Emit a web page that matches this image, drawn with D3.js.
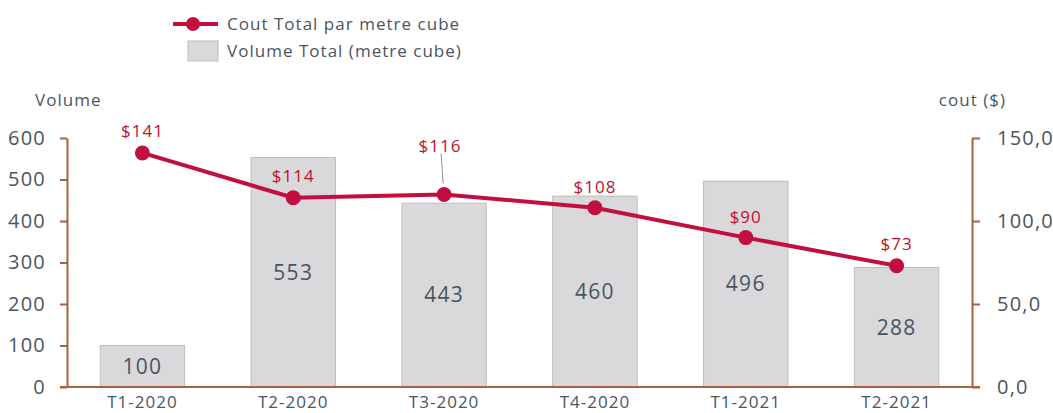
<!DOCTYPE html>
<html><head><meta charset="utf-8">
<script src="https://cdn.jsdelivr.net/npm/d3@7"></script>
<style>
html,body{margin:0;padding:0;background:#fff;}
svg{display:block;font-family:"Open Sans",sans-serif;}
svg text{letter-spacing:0.06em;}
</style></head>
<body>
<svg id="chart" width="1053" height="413"></svg>
<script>
const categories = ["T1-2020","T2-2020","T3-2020","T4-2020","T1-2021","T2-2021"];
const volumes = [100,553,443,460,496,288];
const costs = [141,114,116,108,90,73];
const leftTicks = [0,100,200,300,400,500,600];
const rightTicks = [0,50,100,150];
const labelOffsets = [22,22,48,21,21,22];

const svg = d3.select("#chart");
const textColor = "#4A5560";
const axisColor = "#A9613F";
const lineColor = "#C20F40";
const labelRed = "#C0102A";

const x0 = 67, x1 = 972, yTop = 138, yBot = 387;
const x = d3.scaleBand().domain(categories).range([x0, x1]).paddingInner(0.44).paddingOuter(0.22);
const yL = d3.scaleLinear().domain([0,600]).range([yBot, yTop]);
const yR = d3.scaleLinear().domain([0,150]).range([yBot, yTop]);
const cx = d => x(d) + x.bandwidth()/2;

// bars
svg.append("g").selectAll("rect").data(categories).join("rect")
  .attr("x", d => x(d)).attr("width", x.bandwidth())
  .attr("y", (d,i) => yL(volumes[i])).attr("height", (d,i) => yBot - yL(volumes[i]))
  .attr("fill", "#D9D9DB").attr("stroke", "#BDBDBD").attr("stroke-width", 1);

// bar labels
svg.append("g").selectAll("text").data(categories).join("text")
  .attr("x", d => cx(d)).attr("y", (d,i) => (yL(volumes[i]) + yBot)/2)
  .attr("dy", "0.35em").attr("text-anchor","middle")
  .attr("font-size", 21).attr("fill", textColor)
  .text((d,i) => volumes[i]);

// axes
const gL = svg.append("g").attr("transform", `translate(${x0},0)`)
  .call(d3.axisLeft(yL).tickValues(leftTicks).tickSize(7).tickSizeOuter(0).tickPadding(14));
const gR = svg.append("g").attr("transform", `translate(${x1},0)`)
  .call(d3.axisRight(yR).tickValues(rightTicks).tickSize(8).tickSizeOuter(0).tickPadding(17)
    .tickFormat(d => d3.format(".1f")(d).replace(".", ",")));
[gL, gR].forEach(g => {
  g.select(".domain").attr("stroke", axisColor).attr("stroke-width", 2);
  g.selectAll(".tick line").attr("stroke", axisColor).attr("stroke-width", 2);
  g.selectAll(".tick text").attr("fill", textColor).attr("font-size", 20)
    .attr("font-family", '"Open Sans",sans-serif');
});
// baseline
svg.append("line").attr("x1", 60).attr("x2", 980).attr("y1", yBot).attr("y2", yBot)
  .attr("stroke", axisColor).attr("stroke-width", 2);

// x labels
svg.append("g").selectAll("text").data(categories).join("text")
  .attr("x", d => cx(d)).attr("y", 402).attr("dy","0.35em").attr("text-anchor","middle")
  .attr("font-size", 17).attr("fill", textColor).text(d => d);

// axis titles
svg.append("text").attr("x", 35).attr("y", 100).attr("dy","0.35em")
  .attr("font-size", 17).attr("fill", textColor).text("Volume");
svg.append("text").attr("x", 1006).attr("y", 100).attr("dy","0.35em").attr("text-anchor","end")
  .attr("font-size", 17).attr("fill", textColor).text("cout ($)");

// line
const line = d3.line().x((d,i) => cx(categories[i])).y(d => yR(d));
svg.append("path").datum(costs).attr("d", line).attr("fill","none")
  .attr("stroke", lineColor).attr("stroke-width", 4);
svg.append("g").selectAll("circle").data(costs).join("circle")
  .attr("cx", (d,i) => cx(categories[i])).attr("cy", d => yR(d)).attr("r", 7.5)
  .attr("fill", lineColor);

// leader line for $116
svg.append("line").attr("x1", cx(categories[2]) - 3).attr("x2", cx(categories[2]) - 1)
  .attr("y1", yR(costs[2]) - 41).attr("y2", yR(costs[2]) - 11)
  .attr("stroke", "#8A8F96").attr("stroke-width", 1);

// cost labels
svg.append("g").selectAll("text").data(costs).join("text")
  .attr("x", (d,i) => cx(categories[i]) - (i===2 ? 4 : 0))
  .attr("y", (d,i) => yR(d) - labelOffsets[i]).attr("dy","0.35em").attr("text-anchor","middle")
  .attr("font-size", 17).attr("fill", labelRed).text(d => "$" + d);

// legend
const lg = svg.append("g");
lg.append("line").attr("x1", 173).attr("x2", 218).attr("y1", 24).attr("y2", 24)
  .attr("stroke", lineColor).attr("stroke-width", 4);
lg.append("circle").attr("cx", 193).attr("cy", 24).attr("r", 7).attr("fill", lineColor);
lg.append("text").attr("x", 227).attr("y", 24).attr("dy","0.35em").attr("font-size", 17)
  .attr("fill", textColor).text("Cout Total par metre cube");
lg.append("rect").attr("x", 188).attr("y", 41).attr("width", 30).attr("height", 20)
  .attr("fill", "#D9D9DB").attr("stroke", "#BDBDBD");
lg.append("text").attr("x", 227).attr("y", 51).attr("dy","0.35em").attr("font-size", 17)
  .attr("fill", textColor).text("Volume Total (metre cube)");
</script>
</body></html>
